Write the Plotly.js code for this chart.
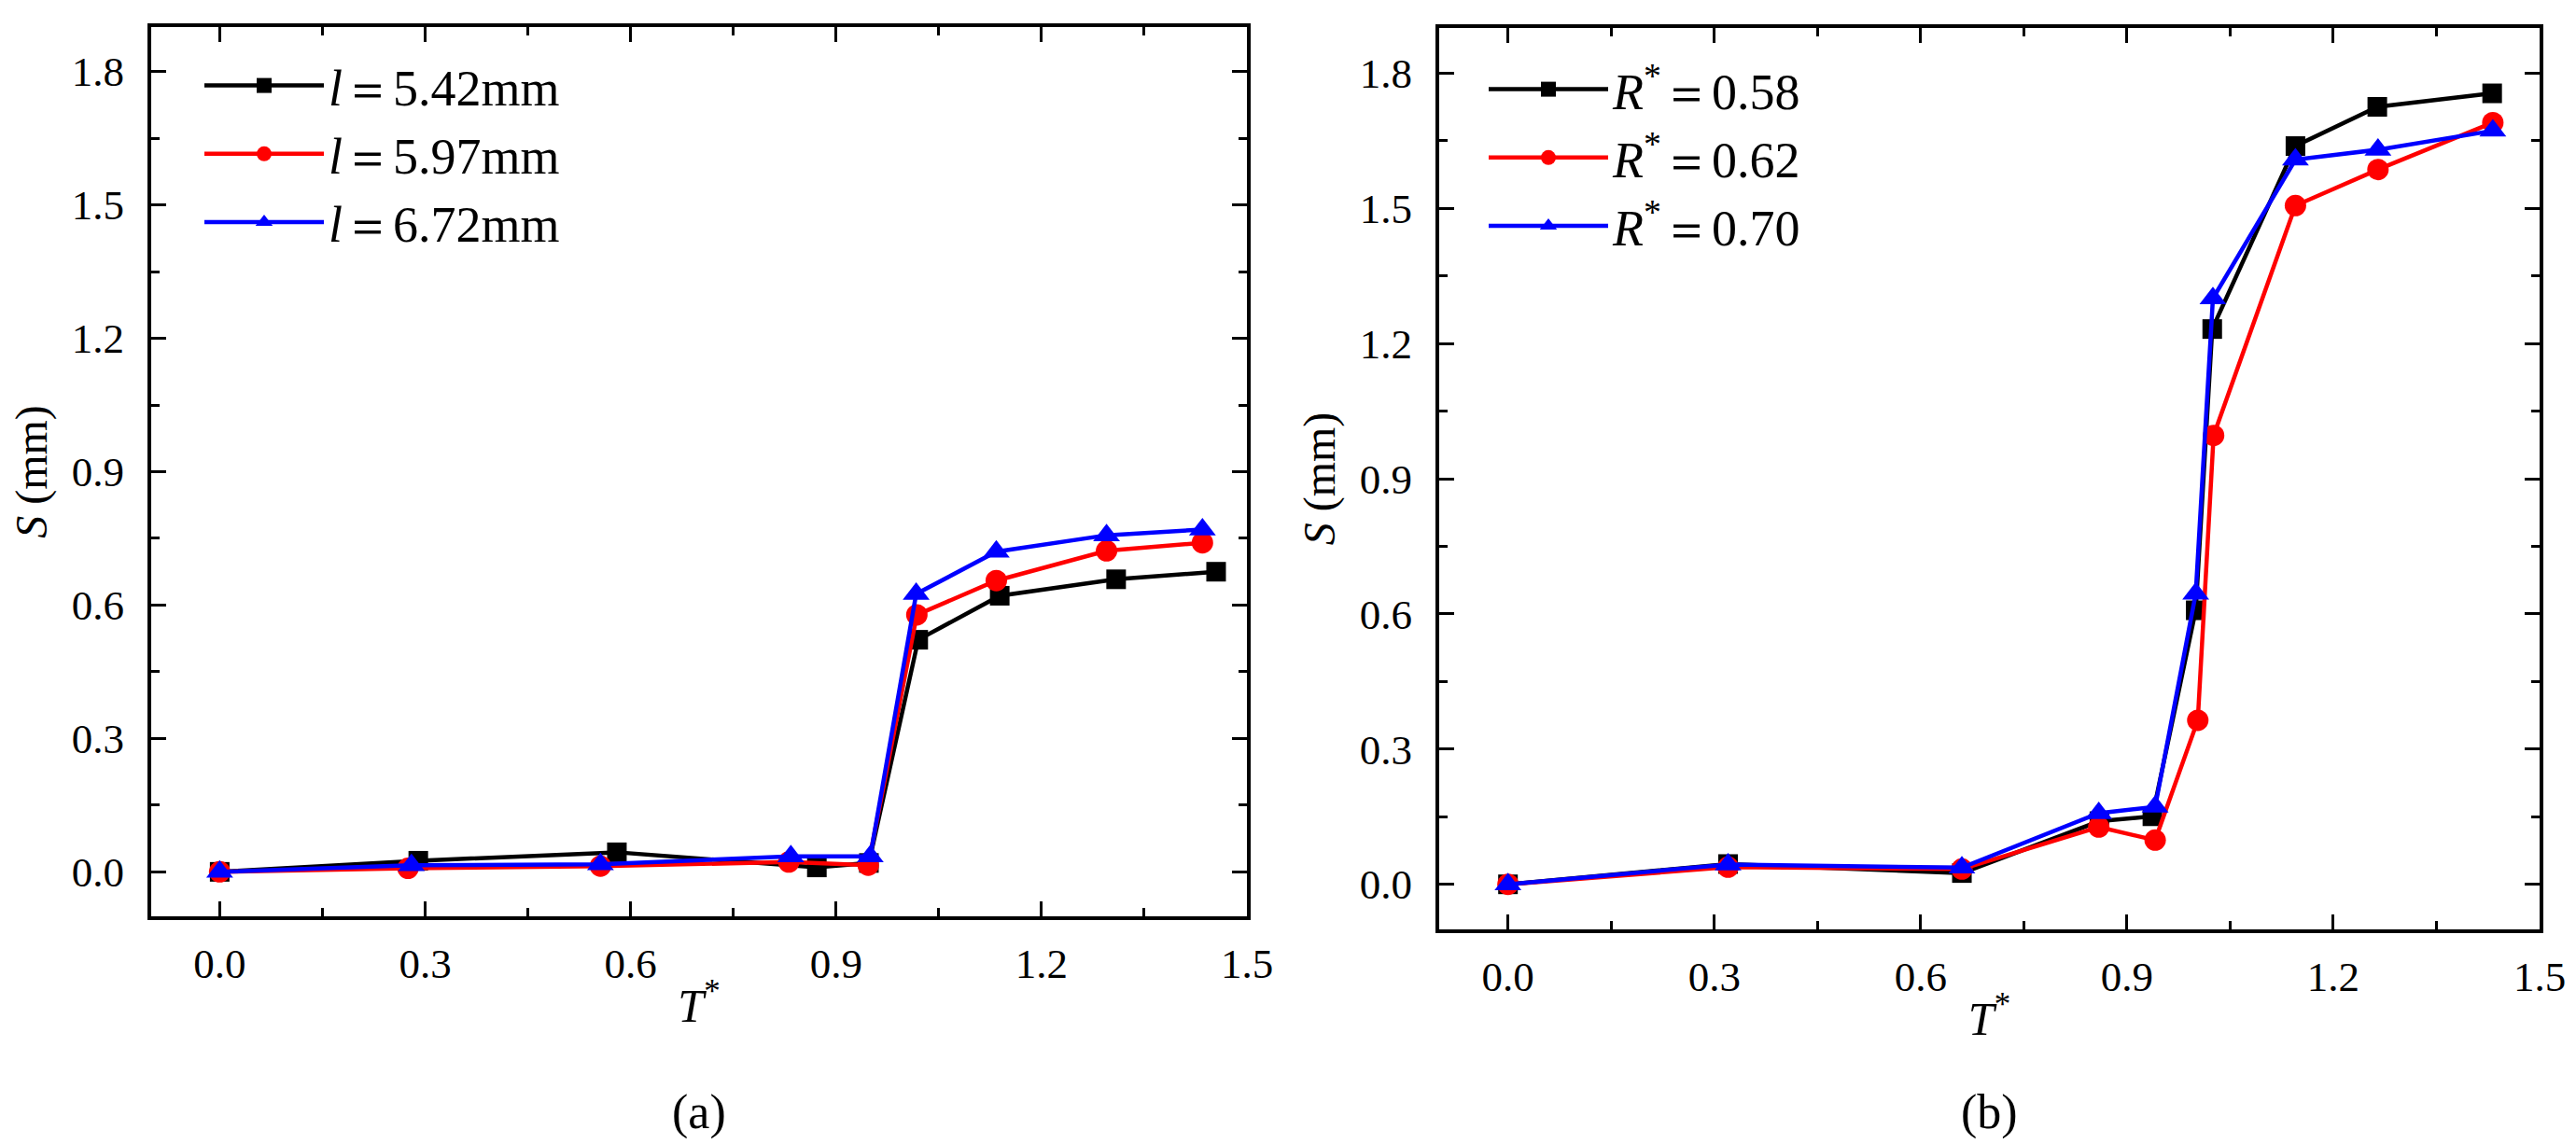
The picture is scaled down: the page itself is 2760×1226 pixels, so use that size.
<!DOCTYPE html>
<html>
<head>
<meta charset="utf-8">
<script src="https://cdn.plot.ly/plotly-3.0.1.min.js"></script>
<style>
  body { margin: 0; background: #fff; }
  #fig { width: 2760px; height: 1226px; }
</style>
</head>
<body>
<div id="fig"></div>
<script>
// panel (a): effect of l
var tA_black = [0, 0.29, 0.58, 0.872, 0.948, 1.02, 1.139, 1.309, 1.455];
var sA_black = [0, 0.025, 0.044, 0.010, 0.020, 0.522, 0.621, 0.658, 0.675];
var tA_red = [0, 0.275, 0.556, 0.831, 0.947, 1.018, 1.134, 1.295, 1.435];
var sA_red = [0, 0.008, 0.013, 0.022, 0.015, 0.578, 0.655, 0.722, 0.740];
var tA_blue = [0, 0.28, 0.556, 0.834, 0.950, 1.017, 1.134, 1.295, 1.435];
var sA_blue = [0, 0.015, 0.017, 0.035, 0.035, 0.625, 0.720, 0.757, 0.770];
var namesA = ["<i>l</i>\uFF1D5.42mm", "<i>l</i>\uFF1D5.97mm", "<i>l</i>\uFF1D6.72mm"];

// panel (b): effect of R*
var tB_black = [0, 0.32, 0.66, 0.86, 0.937, 1.0, 1.024, 1.145, 1.264, 1.431];
var sB_black = [0, 0.045, 0.025, 0.140, 0.151, 0.608, 1.232, 1.638, 1.725, 1.755];
var tB_red = [0, 0.32, 0.66, 0.859, 0.941, 1.003, 1.026, 1.145, 1.265, 1.432];
var sB_red = [0, 0.038, 0.034, 0.127, 0.098, 0.364, 0.996, 1.506, 1.586, 1.690];
var tB_blue = [0, 0.32, 0.66, 0.859, 0.941, 1.0, 1.025, 1.145, 1.265, 1.432];
var sB_blue = [0, 0.044, 0.037, 0.158, 0.172, 0.645, 1.300, 1.608, 1.630, 1.672];
var namesB = ["<i>R</i><sup>*</sup>\uFF1D0.58", "<i>R</i><sup>*</sup>\uFF1D0.62", "<i>R</i><sup>*</sup>\uFF1D0.70"];

var xTicks = [0, 0.3, 0.6, 0.9, 1.2, 1.5];
var yTicks = [0, 0.3, 0.6, 0.9, 1.2, 1.5, 1.8];

var colors = ["#000000", "#ff0000", "#0000ff"];
var symbols = ["square", "circle", "triangle-up"];
var msizes = [21, 23, 25];
var FONT = "Liberation Serif, Times New Roman, serif";

function mk(x, y, k, name, xa, ya, leg) {
  return {
    x: x, y: y, name: name, type: "scatter", mode: "lines+markers",
    xaxis: xa, yaxis: ya, legend: leg,
    line: { color: colors[k], width: 4.5 },
    marker: { color: colors[k], symbol: symbols[k], size: msizes[k] }
  };
}

var data = [
  mk(tA_black, sA_black, 0, namesA[0], "x", "y", "legend"),
  mk(tA_red, sA_red, 1, namesA[1], "x", "y", "legend"),
  mk(tA_blue, sA_blue, 2, namesA[2], "x", "y", "legend"),
  mk(tB_black, sB_black, 0, namesB[0], "x2", "y2", "legend2"),
  mk(tB_red, sB_red, 1, namesB[1], "x2", "y2", "legend2"),
  mk(tB_blue, sB_blue, 2, namesB[2], "x2", "y2", "legend2")
];

function xax(dom) {
  return {
    domain: dom, range: [-0.1, 1.5], tickvals: xTicks, ticktext: xTicks.map(function (v) { return v.toFixed(1); }),
    ticks: "inside", ticklen: 16, tickwidth: 3, tickcolor: "#000",
    minor: { ticks: "inside", dtick: 0.15, tick0: 0, ticklen: 9, tickwidth: 3, tickcolor: "#000", showgrid: false },
    showline: true, linewidth: 4, linecolor: "#000", mirror: "allticks",
    showgrid: false, zeroline: false, ticklabelstandoff: 8,
    tickfont: { family: FONT, size: 45, color: "#000" },
    title: { text: "<i>T</i><sup>*</sup>", font: { family: FONT, size: 50, color: "#000" }, standoff: 4 }
  };
}
function yax(dom, anchor) {
  return {
    domain: dom, anchor: anchor, range: [-0.1, 1.9], tickvals: yTicks, ticktext: yTicks.map(function (v) { return v.toFixed(1); }),
    ticks: "inside", ticklen: 16, tickwidth: 3, tickcolor: "#000",
    minor: { ticks: "inside", dtick: 0.15, tick0: 0, ticklen: 9, tickwidth: 3, tickcolor: "#000", showgrid: false },
    showline: true, linewidth: 4, linecolor: "#000", mirror: "allticks",
    showgrid: false, zeroline: false, ticklabelstandoff: 16,
    tickfont: { family: FONT, size: 45, color: "#000" },
    title: { text: "<i>S</i> (mm)", font: { family: FONT, size: 48, color: "#000" }, standoff: 12 }
  };
}

var xa = xax([162 / 2760, 1336 / 2760]); xa.anchor = "y";
var xb = xax([1542 / 2760, 2721 / 2760]); xb.anchor = "y2";

var layout = {
  width: 2760, height: 1226,
  margin: { l: 0, r: 0, t: 0, b: 0 },
  paper_bgcolor: "#fff", plot_bgcolor: "#fff",
  font: { family: FONT, color: "#000" },
  xaxis: xa, yaxis: yax([1 - 982 / 1226, 1 - 29 / 1226], "x"),
  xaxis2: xb, yaxis2: yax([1 - 996 / 1226, 1 - 30 / 1226], "x2"),
  legend: {
    x: 214 / 2760, y: 1 - 50 / 1226, xanchor: "left", yanchor: "top",
    bgcolor: "rgba(0,0,0,0)", borderwidth: 0, itemwidth: 128,
    font: { family: FONT, size: 54, color: "#000" }
  },
  legend2: {
    x: 1590 / 2760, y: 1 - 54 / 1226, xanchor: "left", yanchor: "top",
    bgcolor: "rgba(0,0,0,0)", borderwidth: 0, itemwidth: 128,
    font: { family: FONT, size: 54, color: "#000" }
  },
  annotations: [
    { text: "(a)", xref: "paper", yref: "paper", x: 749 / 2760, y: 1 - 1192 / 1226, showarrow: false,
      xanchor: "center", yanchor: "middle", font: { family: FONT, size: 52, color: "#000" } },
    { text: "(b)", xref: "paper", yref: "paper", x: 2131 / 2760, y: 1 - 1192 / 1226, showarrow: false,
      xanchor: "center", yanchor: "middle", font: { family: FONT, size: 52, color: "#000" } }
  ]
};

Plotly.newPlot("fig", data, layout, { staticPlot: true });
</script>
</body>
</html>
